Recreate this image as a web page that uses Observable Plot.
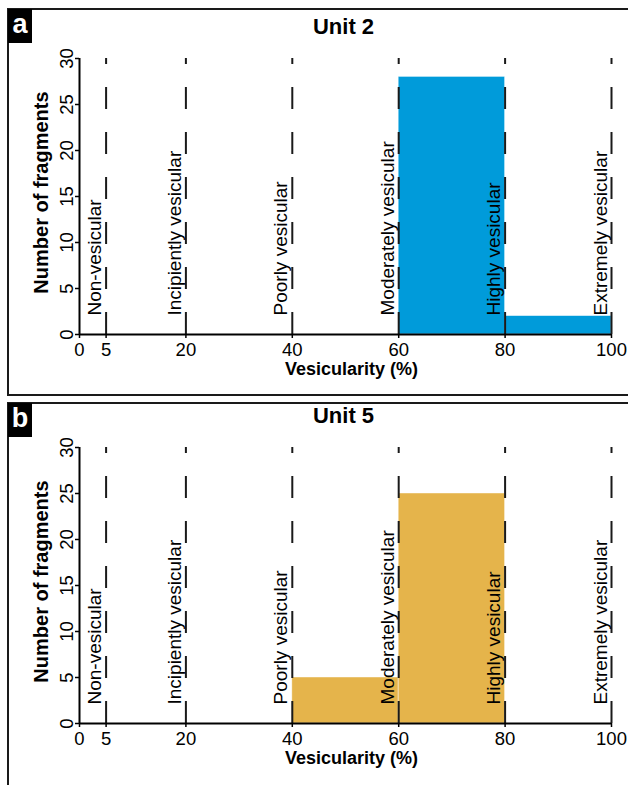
<!DOCTYPE html>
<html>
<head>
<meta charset="utf-8">
<script src="https://cdn.jsdelivr.net/npm/d3@7"></script>
<script src="https://cdn.jsdelivr.net/npm/@observablehq/plot@0.6"></script>
<style>
  body { margin: 0; background: #fff; }
  #root { position: relative; width: 628px; height: 785px; overflow: hidden; font-family: "Liberation Sans", Arial, sans-serif; background: #fff; }
  .panel { position: absolute; left: 0; width: 628px; z-index: 1; }
  .frame { position: absolute; border: 2px solid #1a1a1a; box-sizing: border-box; pointer-events: none; z-index: 2; }
  .badge { position: absolute; width: 24px; height: 34px; background: #000; color: #fff; font-weight: bold; font-size: 27px; line-height: 30px; text-align: center; z-index: 3; font-family: "Liberation Sans", Arial, sans-serif; }
</style>
</head>
<body>
<div id="root">
  <div class="frame" style="left:7px; top:8px; width:640px; height:388px;"></div>
  <div class="frame" style="left:7px; top:402px; width:640px; height:500px;"></div>
  <div class="badge" style="left:8px; top:9px;">a</div>
  <div class="badge" style="left:8px; top:403px;">b</div>
  <div class="panel" id="pa" style="top:0px;"></div>
  <div class="panel" id="pb" style="top:389px;"></div>
</div>
<script>
// ---- data ----
const classNames = ["Non-vesicular", "Incipiently vesicular", "Poorly vesicular", "Moderately vesicular", "Highly vesicular", "Extremely vesicular"];
const classUpper = [5, 20, 40, 60, 80, 100];
const binStart = [0, 5, 20, 40, 60, 80];
const binEnd = [5, 20, 40, 60, 80, 100];
const countsUnit2 = [0, 0, 0, 0, 28, 2];
const countsUnit5 = [0, 0, 0, 5, 25, 0];
const xTicks = [0, 5, 20, 40, 60, 80, 100];
const yTicks = [0, 5, 10, 15, 20, 25, 30];
const titles = ["Unit 2", "Unit 5"];
const colors = ["#009bda", "#e5b44b"];
const xLabel = "Vesicularity (%)";
const yLabel = "Number of fragments";

function makePanel(title, counts, color, height) {
  const bins = counts.map((c, i) => ({x1: binStart[i], x2: binEnd[i], n: c})).filter(d => d.n > 0);
  return Plot.plot({
    width: 628,
    height: height,
    marginLeft: 79,
    marginRight: 17,
    marginTop: 58,
    marginBottom: height - 334,
    style: {fontFamily: "'Liberation Sans', Arial, sans-serif", fontSize: "18px", color: "#000", background: "transparent", overflow: "visible"},
    x: {domain: [0, 100]},
    y: {domain: [0, 30]},
    marks: [
      Plot.rectY(bins, {x1: "x1", x2: "x2", y1: 0, y2: "n", fill: color, stroke: "#fff", strokeOpacity: 0.55, strokeWidth: 0.8}),
      Plot.ruleX(classUpper, {y1: 0, y2: 30, stroke: "#1a1a1a", strokeWidth: 2, strokeDasharray: "22,23"}),
      Plot.text(classNames, {x: (d, i) => classUpper[i], text: d => d, frameAnchor: "bottom", rotate: -90, textAnchor: "start", lineAnchor: "bottom", dx: -5, dy: -19, fontSize: 19, fill: "#000"}),
      Plot.axisX({ticks: xTicks, tickSize: 4, tickPadding: 4, strokeWidth: 1.5, fontSize: 18.5, label: null}),
      Plot.axisY({ticks: yTicks, tickSize: 4, tickPadding: 3, tickRotate: -90, strokeWidth: 1.5, fontSize: 18.5, label: null}),
      Plot.ruleY([0], {stroke: "#000", strokeWidth: 2}),
      Plot.ruleX([0], {stroke: "#000", strokeWidth: 2}),
      Plot.text([title], {text: d => d, frameAnchor: "top", lineAnchor: "bottom", dy: -25, dx: -2, fontSize: 22, fontWeight: "bold", fill: "#000"}),
      Plot.text([xLabel], {text: d => d, frameAnchor: "bottom", lineAnchor: "bottom", dy: 40, dx: 6, fontSize: 18, fontWeight: "bold", fill: "#000"}),
      Plot.text([yLabel], {text: d => d, frameAnchor: "left", rotate: -90, textAnchor: "middle", lineAnchor: "bottom", dx: -32, dy: -4, fontSize: 20, fontWeight: "bold", fill: "#000"})
    ]
  });
}

document.getElementById("pa").appendChild(makePanel(titles[0], countsUnit2, colors[0], 395));
document.getElementById("pb").appendChild(makePanel(titles[1], countsUnit5, colors[1], 396));
</script>
</body>
</html>
